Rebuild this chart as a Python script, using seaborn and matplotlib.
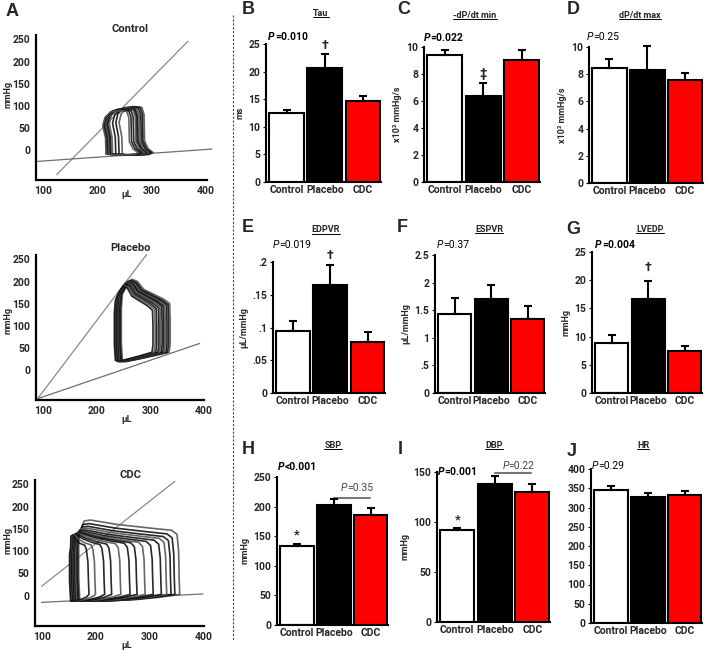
import matplotlib
matplotlib.use("Agg")
import matplotlib.pyplot as plt
from matplotlib.lines import Line2D
import numpy as np
import seaborn as sns

sns.set_theme(style="ticks")
plt.rcParams['font.family'] = ['Roboto', 'DejaVu Sans']

W, H = 707, 652

# ---- bar data (means and upper SEM) ----
groups = ["Control", "Placebo", "CDC"]
bar_colors = ["white", "black", "#ff0000"]

tau = [12.5, 20.7, 14.6]
tau_err = [0.5, 2.4, 1.0]
dpdt_min = [9.38, 6.37, 9.06]
dpdt_min_err = [0.37, 0.99, 0.69]
dpdt_max = [8.45, 8.28, 7.55]
dpdt_max_err = [0.65, 1.80, 0.55]
edpvr = [0.095, 0.165, 0.078]
edpvr_err = [0.015, 0.031, 0.015]
espvr = [1.43, 1.70, 1.34]
espvr_err = [0.29, 0.26, 0.24]
lvedp = [8.8, 16.6, 7.4]
lvedp_err = [1.4, 3.2, 0.9]
sbp = [134, 202, 186]
sbp_err = [3, 11, 11]
dbp = [92, 138, 130]
dbp_err = [2.5, 8, 8]
hr = [346, 326, 333]
hr_err = [10, 11, 11]

# ---- PV loop data (outermost loop outline, volume uL / pressure mmHg) ----
ctrl_v = [246, 245, 240, 244, 254, 270, 282, 286, 287, 294, 303, 296, 262, 246]
ctrl_p = [-9, 30, 62, 82, 95, 98, 96, 80, 20, 2, -6, -10, -12, -9]
ctrl_wr = [0, 0, 0, 0, 0.2, 0.6, 1, 1, 1, 1, 1, 1, 0.5, 0]
ctrl_wt = [0, 0.3, 0.8, 1, 1, 1, 1, 0.8, 0.2, 0, 0, 0, 0, 0]
ctrl_left = [0, -6, -12, -18, -21, -23, -25, -27, -29, -30]
ctrl_right = [0, -3, -6, -9, -12, -14, -16, -20, -24, -28]
ctrl_top = [0, 0, -2, -3, -4, -5, -6, -7, -8, -9]
ctrl_espvr = ([125, 367], [-56, 246])
ctrl_edpvr = ([89, 411], [-26, 2])

plac_v = [248, 246, 246, 248, 256, 266, 276, 288, 305, 325, 336, 337, 337, 335, 310, 280, 255, 248]
plac_p = [22, 60, 140, 172, 190, 205, 200, 182, 172, 160, 150, 110, 60, 40, 33, 25, 19, 22]
plac_wr = [0, 0, 0, 0, 0.1, 0.2, 0.3, 0.5, 0.7, 0.9, 1, 1, 1, 1, 0.7, 0.4, 0.1, 0]
plac_wt = [0, 0.2, 0.8, 1, 1, 1, 1, 1, 1, 1, 1, 0.7, 0.2, 0, 0, 0, 0, 0]
plac_left = [0, -2, -4, -6, -7, -8, -9, -10, -11, -12, -13]
plac_right = [0, -3, -6, -9, -12, -15, -18, -21, -25, -28, -32]
plac_top = [0, -2, -3, -4, -5, -6, -7, -9, -11, -13, -15]
plac_espvr = ([90, 293], [-65, 261])
plac_edpvr = ([90, 392], [-65, 60])

cdc_v = [170, 168, 168, 170, 178, 190, 240, 300, 340, 350, 353, 354, 355, 320, 280, 220, 170]
cdc_p = [-12, 40, 120, 142, 168, 170, 160, 152, 147, 138, 100, 40, 3, -3, -8, -12, -12]
cdc_wr = [0, 0, 0, 0, 0.05, 0.1, 0.4, 0.75, 0.95, 1, 1, 1, 1, 0.8, 0.6, 0.3, 0]
cdc_wt = [0, 0.2, 0.8, 1, 1, 1, 1, 1, 1, 1, 0.7, 0.2, 0, 0, 0, 0, 0]
cdc_left = [0, -2, -4, -6, -8, -9, -10, -11, -12, -13, -14, -15, -16, -17]
cdc_right = [0, -9, -16, -24, -34, -49, -64, -79, -92, -109, -126, -139, -156, -168]
cdc_top = [0, -8, -14, -18, -22, -25, -27, -28, -29, -30, -31, -32, -33, -34]
cdc_espvr = ([99, 346], [21, 257])
cdc_edpvr = ([99, 398], [-15, 4])

fig = plt.figure(figsize=(W / 100, H / 100), dpi=100)


def add_ax(left, top, right, bottom):
    return fig.add_axes([left / W, 1 - bottom / H, (right - left) / W, (bottom - top) / H])


def ftext(x, y, s, **kw):
    return fig.text(x / W, 1 - y / H, s, **kw)


# ---- panel A: PV loops ----
def pv_panel(rect, base_v, base_p, wr, wt, sl, sr, st, espvr, edpvr, title, tpos, xlim):
    ax = add_ax(*rect)
    ax.plot(espvr[0], espvr[1], color="#8a8a8a", lw=0.9, clip_on=False)
    ax.plot(edpvr[0], edpvr[1], color="#6e6e6e", lw=0.9, clip_on=False)
    bv = np.array(base_v, float)
    bp = np.array(base_p, float)
    wr = np.array(wr, float)
    wt = np.array(wt, float)
    for i in range(len(sl)):
        v = bv + sl[i] * (1 - wr) + sr[i] * wr
        p = bp + st[i] * wt
        shade = "#111111" if i % 3 else "#555555"
        ax.plot(v, p, color=shade, lw=1.2, alpha=0.9)
    ax.set_xlim(*xlim)
    ax.set_ylim(-68, 260)
    ax.set_xticks([100, 200, 300, 400])
    ax.set_xticklabels(["100", "200", "300", "400"], fontweight="bold", fontsize=7.5)
    ax.set_yticks([0, 50, 100, 150, 200, 250])
    ax.set_yticklabels(["0", "50", "100", "150", "200", "250"], fontweight="bold", fontsize=7.5)
    ax.tick_params(length=0, pad=4)
    sns.despine(ax=ax)
    ax.spines["left"].set_linewidth(1.6)
    ax.spines["bottom"].set_linewidth(1.6)
    ax.spines["left"].set_color("black")
    ax.spines["bottom"].set_color("black")
    ax.patch.set_alpha(0)
    ftext(tpos[0], tpos[1], title, ha="center", va="center", fontsize=8, fontweight="bold")
    return ax


pv_panel((36, 35, 207, 180), ctrl_v, ctrl_p, ctrl_wr, ctrl_wt, ctrl_left, ctrl_right, ctrl_top,
         ctrl_espvr, ctrl_edpvr, "Control", (130, 29), (87, 402))
pv_panel((36, 255, 204, 400), plac_v, plac_p, plac_wr, plac_wt, plac_left, plac_right, plac_top,
         plac_espvr, plac_edpvr, "Placebo", (130, 248), (87, 400))
pv_panel((35, 480, 204, 626), cdc_v, cdc_p, cdc_wr, cdc_wt, cdc_left, cdc_right, cdc_top,
         cdc_espvr, cdc_edpvr, "CDC", (131, 475), (87, 400))

for yy in (95, 320, 540):
    ftext(8, yy, "mmHg", rotation=90, ha="center", va="center", fontsize=6.5, fontweight="bold")
for yy in (194, 420, 646):
    ftext(127, yy, "µL", ha="center", va="center", fontsize=6.5, fontweight="bold")


# ---- bar panels ----
def p_text(ax, x, y, val, bold, color="black", ha="left"):
    w = "bold" if bold else "normal"
    t1 = ax.text(x, y, "P", transform=ax.transAxes, style="italic", fontweight=w,
                 fontsize=7.5, ha=ha, va="center", color=color)
    ax.annotate(val, xy=(1, 0), xycoords=t1, va="bottom", ha="left", fontweight=w,
                fontsize=7.5, color=color)
    return t1


def bar_panel(rect, vals, errs, ymax, ticks, ticklabels, ylabel, pinfo):
    ax = add_ax(*rect)
    sns.barplot(x=groups, y=vals, hue=groups, palette=bar_colors, width=0.91, saturation=1,
                edgecolor="black", linewidth=1.5, legend=False, errorbar=None, ax=ax)
    ax.errorbar(range(3), vals, yerr=[[0, 0, 0], errs], fmt="none", ecolor="black",
                elinewidth=1.5, capsize=2.8, capthick=1.5, clip_on=False, zorder=3)
    ax.set_xlim(-0.54, 2.47)
    ax.set_ylim(0, ymax)
    ax.set_xticks(range(3))
    ax.set_xticklabels(groups, fontweight="bold", fontsize=7.5)
    ax.set_yticks(ticks)
    ax.set_yticklabels(ticklabels, fontweight="bold", fontsize=7.5)
    ax.tick_params(axis="x", length=0, pad=2)
    ax.tick_params(axis="y", length=2.5, width=0.8, pad=1.5, color="black")
    ax.set_xlabel("")
    ax.set_ylabel(ylabel, fontsize=6.5, fontweight="bold", labelpad=3)
    sns.despine(ax=ax)
    for s in ("left", "bottom"):
        ax.spines[s].set_linewidth(1.5)
        ax.spines[s].set_color("black")
    ax.patch.set_alpha(0)
    p_text(ax, pinfo[0], pinfo[1], pinfo[2], pinfo[3])
    return ax


def mark(ax, i, vals, errs, sym, pad=2):
    ax.annotate(sym, xy=(i, vals[i] + errs[i]), xytext=(0, pad), textcoords="offset points",
                ha="center", va="bottom", fontsize=9, fontweight="bold", annotation_clip=False)


axB = bar_panel((266, 44, 381, 182), tau, tau_err, 25, [0, 5, 10, 15, 20, 25],
                ["0", "5", "10", "15", "20", "25"], "ms", (0.02, 1.05, "=0.010", True))
mark(axB, 1, tau, tau_err, "†")
axC = bar_panel((424, 47, 540, 182), dpdt_min, dpdt_min_err, 10, [0, 2, 4, 6, 8, 10],
                ["0", "2", "4", "6", "8", "10"], "x10³ mmHg/s", (0.0, 1.07, "=0.022", True))
mark(axC, 1, dpdt_min, dpdt_min_err, "‡")
axD = bar_panel((589, 47, 703, 183), dpdt_max, dpdt_max_err, 10, [0, 2, 4, 6, 8, 10],
                ["0", "2", "4", "6", "8", "10"], "x10³ mmHg/s", (-0.02, 1.07, "=0.25", False))
axE = bar_panel((273, 262, 385, 393), edpvr, edpvr_err, 0.2, [0, 0.05, 0.1, 0.15, 0.2],
                ["0", ".05", ".1", ".15", ".2"], "µL/mmHg", (0.0, 1.13, "=0.019", False))
mark(axE, 1, edpvr, edpvr_err, "†")
axF = bar_panel((435, 255, 545, 393), espvr, espvr_err, 2.5, [0, 0.5, 1, 1.5, 2, 2.5],
                ["0", ".5", "1", "1.5", "2", "2.5"], "µL/mmHg", (0.02, 1.07, "=0.37", False))
axG = bar_panel((592, 252, 702, 393), lvedp, lvedp_err, 25, [0, 5, 10, 15, 20, 25],
                ["0", "5", "10", "15", "20", "25"], "mmHg", (0.03, 1.05, "=0.004", True))
mark(axG, 1, lvedp, lvedp_err, "†", pad=5)
axH = bar_panel((277, 477, 388, 625), sbp, sbp_err, 250, [0, 50, 100, 150, 200, 250],
                ["0", "50", "100", "150", "200", "250"], "mmHg", (0.01, 1.07, "<0.001", True))
mark(axH, 0, sbp, sbp_err, "*")
axI = bar_panel((437, 472, 550, 622), dbp, dbp_err, 150, [0, 50, 100, 150],
                ["0", "50", "100", "150"], "mmHg", (0.01, 1.0, "=0.001", True))
mark(axI, 0, dbp, dbp_err, "*", pad=1)
axJ = bar_panel((591, 469, 702, 623), hr, hr_err, 400, list(range(0, 401, 50)),
                [str(t) for t in range(0, 401, 50)], "", (0.01, 1.02, "=0.29", False))

# comparison brackets Placebo vs CDC
for ax, yl, yt, val in ((axH, 214, 231, "=0.35"), (axI, 149, 156, "=0.22")):
    ax.plot([1.0, 1.97], [yl, yl], color="#777777", lw=1.5, clip_on=False)
    t = ax.text(1.2, yt, "P", style="italic", fontsize=7.5, va="center", ha="left", color="#444444")
    ax.annotate(val, xy=(1, 0), xycoords=t, va="bottom", ha="left", fontsize=7.5, color="#444444")

# titles (underlined)
titles = [("Tau", 321, 13), ("-dP/dt min", 475, 15), ("dP/dt max", 640, 15),
          ("EDPVR", 326, 230), ("ESPVR", 489, 229), ("LVEDP", 650, 229),
          ("SBP", 333, 445), ("DBP", 494, 445), ("HR", 643, 445)]
title_artists = [ftext(x, y, s, ha="center", va="center", fontsize=6.5, fontweight="bold")
                 for s, x, y in titles]

# panel letters
letters = [("A", 12, 11), ("B", 248, 10), ("C", 404, 10), ("D", 573, 10),
           ("E", 248, 227), ("F", 402, 227), ("G", 573, 230),
           ("H", 248, 450), ("I", 400, 449), ("J", 572, 451)]
for s, x, y in letters:
    ftext(x, y, s, ha="center", va="center", fontsize=13, fontweight="bold",
          family=["Liberation Sans", "DejaVu Sans"])

# dashed divider
fig.add_artist(Line2D([233 / W, 233 / W], [1 - 15 / H, 1 - 640 / H], color="#444444",
                      lw=0.8, ls=(0, (2, 1.5))))

fig.canvas.draw()
renderer = fig.canvas.get_renderer()
for t in title_artists:
    bb = t.get_window_extent(renderer)
    y0 = bb.y0 + 0.5
    fig.add_artist(Line2D([bb.x0 / W, bb.x1 / W], [y0 / H, y0 / H], color="black", lw=0.7))

fig.savefig("out.png", dpi=100)
